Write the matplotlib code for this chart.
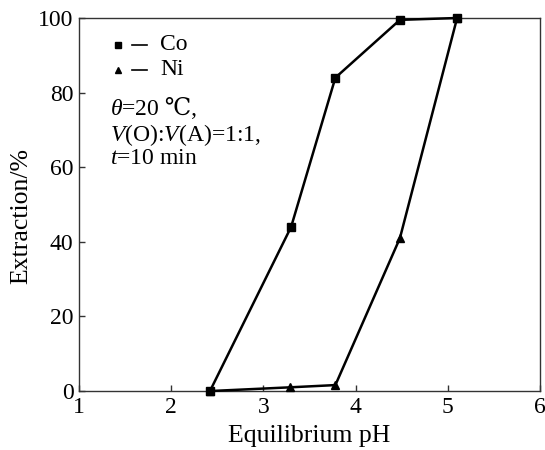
import matplotlib
matplotlib.use("Agg")
import matplotlib.pyplot as plt

plt.rcParams['font.family'] = ['Liberation Serif', 'DejaVu Serif']
plt.rcParams['mathtext.fontset'] = 'custom'
plt.rcParams['mathtext.rm'] = 'Liberation Serif'
plt.rcParams['mathtext.it'] = 'Liberation Serif:italic'

co_ph = [2.42, 3.3, 3.78, 4.48, 5.1]
co_ext = [0, 44, 84, 99.5, 100]
ni_ph = [2.42, 3.29, 3.78, 4.48, 5.1]
ni_ext = [0, 1.0, 1.6, 41, 100]
xticks = [1, 2, 3, 4, 5, 6]
yticks = [0, 20, 40, 60, 80, 100]

FS = 17
LFS = 18.5

fig = plt.figure(figsize=(5.45, 4.5), dpi=100)
ax = fig.add_axes([0.145, 0.131, 0.846, 0.829])

ax.plot(co_ph, co_ext, color='black', lw=1.8, marker='s', ms=5.5, clip_on=False, zorder=3)
ax.plot(ni_ph, ni_ext, color='black', lw=1.8, marker='^', ms=5.5, clip_on=False, zorder=3)

ax.set_xlim(1, 6)
ax.set_ylim(0, 100)
ax.set_xticks(xticks)
ax.set_yticks(yticks)
ax.tick_params(direction='in', length=4, width=1, labelsize=FS, pad=4, color='#333333')
for s in ax.spines.values():
    s.set_linewidth(1.0)
    s.set_color('#333333')
ax.set_xlabel('Equilibrium pH', fontsize=LFS)
ax.set_ylabel('Extraction/%', fontsize=LFS)
ax.xaxis.set_label_coords(0.5, -0.092)
ax.yaxis.set_label_coords(-0.101, 0.47)

# legend drawn in axes coordinates
tr = ax.transAxes
ax.plot([0.085], [0.928], marker='s', color='black', ms=5, transform=tr, clip_on=False)
ax.plot([0.115, 0.147], [0.928, 0.928], color='black', lw=1.2, transform=tr)
ax.text(0.176, 0.928, 'Co', transform=tr, fontsize=FS, va='center', ha='left')
ax.plot([0.085], [0.861], marker='^', color='black', ms=5, transform=tr, clip_on=False)
ax.plot([0.115, 0.147], [0.861, 0.861], color='black', lw=1.2, transform=tr)
ax.text(0.176, 0.861, 'Ni', transform=tr, fontsize=FS, va='center', ha='left')

t1 = ax.text(0.067, 0.740, r'$\theta$=20', transform=tr, fontsize=FS, va='baseline', ha='left')
ax.annotate('\u2009℃,', xy=(1, 0), xycoords=t1, fontsize=FS, va='bottom', ha='left',
            family=['Liberation Serif', 'DejaVu Serif', 'Noto Sans CJK SC'])
ax.text(0.067, 0.670, r'$V$(O):$V$(A)=1:1,', transform=tr, fontsize=FS, va='baseline', ha='left')
ax.text(0.067, 0.609, r'$t$=10 min', transform=tr, fontsize=FS, va='baseline', ha='left')

fig.savefig('out.png', dpi=100)
